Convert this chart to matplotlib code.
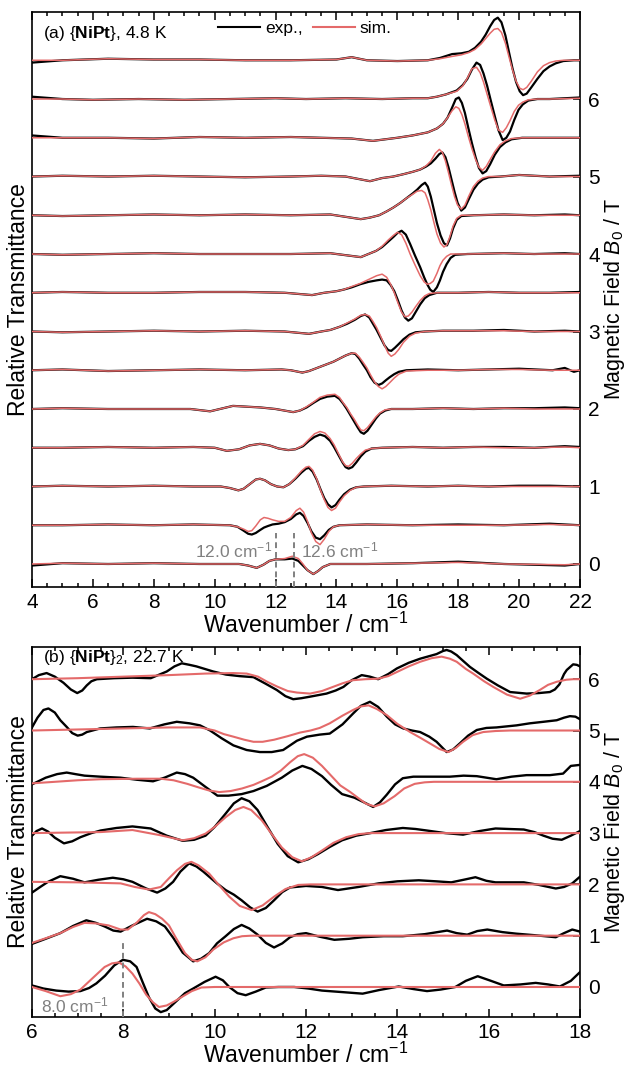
import matplotlib
matplotlib.use('Agg')
import matplotlib.pyplot as plt
from matplotlib.ticker import MultipleLocator
from matplotlib.lines import Line2D

plt.rcParams['font.family'] = ['Liberation Sans', 'DejaVu Sans']
plt.rcParams['mathtext.fontset'] = 'custom'
plt.rcParams['mathtext.rm'] = 'Liberation Sans'
plt.rcParams['mathtext.it'] = 'Liberation Sans:italic'
plt.rcParams['mathtext.bf'] = 'Liberation Sans:bold'

EXP_COLOR = '#000000'
SIM_COLOR = '#e46a6a'
MARK_COLOR = '#808080'

# ---------------- Panel (a): {NiPt}, 4.8 K (offset = field in T) ----------------
A_FIELDS = [0.0, 0.5, 1.0, 1.5, 2.0, 2.5, 3.0, 3.5, 4.0, 4.5, 5.0, 5.5, 6.0, 6.5]

A00_X = [4, 5, 6.5, 8, 9.5, 10.8, 11.1, 11.38, 11.6, 11.8, 12.0, 12.3, 12.55, 12.75, 12.9, 13.05, 13.24, 13.4, 13.55, 13.8, 15, 16.5, 18, 19.5, 21.5, 22]
A00_EXP = [-0.02, 0.01, 0.0, 0.01, 0.0, 0.0, -0.02, -0.05, -0.01, 0.04, 0.06, 0.06, 0.07, 0.04, -0.02, -0.08, -0.13, -0.09, -0.04, 0.0, 0.0, 0.01, 0.03, 0.0, -0.02, 0.0]
A00_SIM = [0.0, 0.01, 0.0, 0.01, 0.0, 0.0, -0.02, -0.05, -0.01, 0.04, 0.06, 0.07, 0.10, 0.07, 0.0, -0.08, -0.13, -0.09, -0.04, 0.0, 0.0, 0.01, 0.02, 0.0, -0.01, 0.0]

A05_X = [4, 5, 6.5, 8, 9.3, 10.5, 10.75, 10.95, 11.1, 11.22, 11.35, 11.5, 11.62, 11.75, 11.9, 12.1, 12.3, 12.5, 12.68, 12.8, 12.92, 13.05, 13.18, 13.32, 13.46, 13.6, 13.75, 13.9, 14.1, 15, 16.5, 18, 19.5, 21, 22]
A05_EXP = [0.0, 0.0, 0.01, 0.0, 0.01, 0.0, -0.02, -0.07, -0.11, -0.12, -0.10, -0.06, -0.03, -0.01, 0.01, 0.02, 0.04, 0.08, 0.14, 0.16, 0.12, 0.03, -0.08, -0.16, -0.18, -0.13, -0.06, -0.02, 0.0, 0.01, 0.0, 0.01, 0.0, 0.02, 0.0]
A05_SIM = [0.0, 0.0, 0.01, 0.0, 0.01, 0.0, -0.02, -0.05, -0.08, -0.07, -0.01, 0.07, 0.10, 0.09, 0.07, 0.05, 0.05, 0.10, 0.19, 0.22, 0.17, 0.05, -0.10, -0.21, -0.25, -0.18, -0.08, -0.02, 0.0, 0.01, 0.0, 0.0, 0.0, 0.01, 0.0]

A10_X = [4, 5, 6.5, 8, 9.3, 10.2, 10.5, 10.78, 10.95, 11.15, 11.35, 11.49, 11.65, 11.85, 12.05, 12.26, 12.45, 12.65, 12.85, 13.0, 13.1, 13.22, 13.35, 13.48, 13.6, 13.72, 13.84, 13.97, 14.1, 14.25, 14.45, 14.65, 14.9, 15.8, 17, 18, 19, 20, 21, 22]
A10_EXP = [0.0, 0.01, 0.0, 0.01, 0.0, 0.0, -0.02, -0.05, -0.03, 0.03, 0.09, 0.10, 0.08, 0.03, 0.0, -0.01, 0.03, 0.10, 0.18, 0.23, 0.24, 0.19, 0.09, -0.04, -0.15, -0.23, -0.27, -0.24, -0.17, -0.10, -0.04, -0.01, 0.0, 0.01, 0.0, 0.01, 0.0, 0.01, 0.01, 0.0]
A10_SIM = [0.0, 0.01, 0.0, 0.01, 0.0, 0.0, -0.02, -0.05, -0.03, 0.03, 0.09, 0.10, 0.08, 0.03, 0.0, -0.01, 0.03, 0.11, 0.20, 0.25, 0.26, 0.21, 0.10, -0.05, -0.17, -0.27, -0.31, -0.28, -0.20, -0.12, -0.05, -0.01, 0.0, 0.01, 0.0, 0.01, 0.0, 0.0, 0.0, 0.0]

A15_X = [4, 5, 6.5, 8, 9.3, 10.0, 10.4, 10.8, 11.15, 11.49, 11.8, 12.1, 12.42, 12.65, 12.9, 13.1, 13.28, 13.46, 13.62, 13.79, 13.92, 14.06, 14.2, 14.3, 14.4, 14.52, 14.65, 14.8, 14.95, 15.15, 15.5, 16.5, 17.5, 18.5, 19.5, 20.5, 21.5, 22]
A15_EXP = [0.0, 0.0, 0.01, 0.0, 0.01, 0.0, -0.04, -0.02, 0.03, 0.05, 0.03, -0.01, -0.03, -0.02, 0.02, 0.09, 0.14, 0.17, 0.15, 0.09, 0.01, -0.09, -0.19, -0.25, -0.27, -0.25, -0.19, -0.11, -0.05, -0.01, 0.0, 0.01, 0.0, 0.01, 0.01, 0.0, 0.02, 0.01]
A15_SIM = [0.0, 0.0, 0.01, 0.0, 0.01, 0.0, -0.04, -0.02, 0.03, 0.05, 0.03, -0.01, -0.03, -0.02, 0.03, 0.11, 0.18, 0.21, 0.19, 0.12, 0.04, -0.07, -0.18, -0.23, -0.24, -0.20, -0.14, -0.08, -0.03, -0.01, 0.0, 0.01, 0.0, 0.01, 0.0, 0.0, 0.01, 0.0]

A20_X = [4, 5, 6.5, 8, 9.2, 9.85, 10.6, 11.5, 12.0, 12.58, 12.8, 13.02, 13.25, 13.46, 13.7, 13.95, 14.1, 14.22, 14.34, 14.46, 14.58, 14.7, 14.8, 14.9, 15.02, 15.16, 15.3, 15.43, 15.6, 15.8, 16.5, 17.5, 18.5, 19.5, 20.5, 21.5, 22]
A20_EXP = [0.0, 0.01, 0.0, 0.0, 0.0, -0.03, 0.04, 0.02, 0.0, -0.04, -0.02, 0.02, 0.08, 0.13, 0.16, 0.17, 0.13, 0.07, 0.0, -0.08, -0.16, -0.24, -0.30, -0.32, -0.28, -0.20, -0.12, -0.06, -0.02, 0.0, 0.0, 0.01, 0.0, 0.01, 0.01, 0.02, 0.01]
A20_SIM = [0.0, 0.01, 0.0, 0.0, 0.0, -0.03, 0.04, 0.02, 0.0, -0.04, -0.02, 0.03, 0.09, 0.15, 0.18, 0.19, 0.15, 0.08, 0.02, -0.06, -0.13, -0.21, -0.27, -0.28, -0.24, -0.17, -0.10, -0.05, -0.01, 0.0, 0.0, 0.01, 0.0, 0.01, 0.0, 0.0, 0.0]

A25_X = [4, 5, 6.5, 8, 9.5, 11, 12.2, 12.5, 12.88, 13.1, 13.3, 13.5, 13.7, 13.9, 14.1, 14.3, 14.5, 14.62, 14.75, 14.88, 15.0, 15.12, 15.25, 15.38, 15.5, 15.62, 15.75, 15.9, 16.05, 16.3, 17, 18, 19, 20, 21.1, 21.5, 21.8, 22]
A25_EXP = [0.0, 0.01, -0.01, 0.0, 0.01, 0.0, 0.01, 0.0, -0.03, -0.01, 0.02, 0.05, 0.08, 0.11, 0.15, 0.19, 0.22, 0.21, 0.15, 0.07, 0.0, -0.09, -0.16, -0.19, -0.17, -0.13, -0.09, -0.05, -0.02, 0.0, 0.01, 0.0, 0.01, 0.02, 0.0, 0.03, -0.02, 0.0]
A25_SIM = [0.0, 0.01, -0.01, 0.0, 0.01, 0.0, 0.01, 0.0, -0.03, -0.01, 0.02, 0.05, 0.08, 0.11, 0.15, 0.19, 0.22, 0.22, 0.17, 0.10, 0.03, -0.06, -0.15, -0.21, -0.24, -0.21, -0.16, -0.10, -0.05, -0.01, 0.0, 0.0, 0.01, 0.01, 0.0, 0.0, 0.0, 0.0]

A30_X = [4, 5, 6.5, 8, 9.5, 11, 12.3, 13.1, 13.5, 13.8, 14.1, 14.35, 14.6, 14.8, 14.94, 15.08, 15.2, 15.32, 15.45, 15.58, 15.7, 15.8, 15.92, 16.05, 16.2, 16.4, 16.6, 16.9, 17.5, 18.5, 19.5, 20.5, 21.5, 22]
A30_EXP = [0.0, -0.01, 0.0, 0.01, 0.0, 0.01, 0.0, -0.03, 0.0, 0.02, 0.06, 0.10, 0.15, 0.20, 0.22, 0.18, 0.10, 0.02, -0.08, -0.18, -0.24, -0.25, -0.21, -0.16, -0.10, -0.04, -0.01, 0.0, 0.01, 0.01, 0.02, 0.0, 0.01, 0.0]
A30_SIM = [0.0, -0.01, 0.0, 0.01, 0.0, 0.01, 0.0, -0.03, 0.0, 0.02, 0.06, 0.11, 0.16, 0.21, 0.22, 0.20, 0.13, 0.05, -0.06, -0.18, -0.28, -0.32, -0.29, -0.23, -0.14, -0.06, -0.02, 0.0, 0.01, 0.01, 0.01, 0.0, 0.0, 0.0]

A35_X = [4, 5, 6.5, 8, 9.5, 11, 12.3, 13.2, 13.6, 14.0, 14.23, 14.5, 14.78, 15.05, 15.32, 15.5, 15.65, 15.78, 15.9, 16.02, 16.14, 16.25, 16.36, 16.48, 16.6, 16.75, 16.9, 17.05, 17.3, 18, 19, 20, 21, 22]
A35_EXP = [0.0, 0.01, 0.0, 0.0, 0.01, 0.01, 0.0, -0.03, 0.0, 0.02, 0.04, 0.07, 0.11, 0.14, 0.16, 0.17, 0.16, 0.10, 0.02, -0.10, -0.23, -0.32, -0.36, -0.33, -0.25, -0.15, -0.07, -0.03, 0.0, 0.0, 0.01, 0.0, 0.0, 0.01]
A35_SIM = [0.0, 0.01, 0.0, 0.0, 0.01, 0.01, 0.0, -0.03, 0.0, 0.02, 0.04, 0.08, 0.12, 0.17, 0.22, 0.24, 0.20, 0.11, 0.0, -0.13, -0.25, -0.31, -0.30, -0.25, -0.18, -0.10, -0.04, -0.01, 0.0, 0.0, 0.01, 0.0, 0.0, 0.0]

A40_X = [4, 5, 6.5, 8, 9.5, 11, 12.5, 13.8, 14.8, 15.05, 15.3, 15.5, 15.7, 15.87, 16.0, 16.14, 16.28, 16.42, 16.58, 16.75, 16.88, 16.98, 17.08, 17.18, 17.3, 17.4, 17.5, 17.62, 17.75, 17.9, 18.3, 19.5, 20.5, 21.5, 22]
A40_EXP = [0.0, -0.01, 0.0, 0.01, 0.0, 0.0, 0.0, 0.01, -0.04, 0.0, 0.04, 0.09, 0.16, 0.22, 0.27, 0.30, 0.25, 0.13, -0.02, -0.17, -0.30, -0.39, -0.46, -0.49, -0.43, -0.34, -0.23, -0.13, -0.05, -0.01, 0.0, 0.01, 0.0, 0.01, 0.0]
A40_SIM = [0.0, -0.01, 0.0, 0.01, 0.0, 0.0, 0.0, 0.01, -0.04, 0.0, 0.04, 0.10, 0.18, 0.24, 0.28, 0.25, 0.14, 0.0, -0.14, -0.28, -0.36, -0.39, -0.38, -0.35, -0.25, -0.15, -0.08, -0.03, 0.0, 0.0, 0.0, 0.01, 0.0, 0.0, 0.0]

A45_X = [4, 5, 6.5, 8, 9.5, 11, 12.5, 13.8, 14.8, 15.1, 15.4, 15.65, 15.87, 16.1, 16.3, 16.5, 16.65, 16.8, 16.91, 17.0, 17.1, 17.2, 17.3, 17.42, 17.53, 17.63, 17.73, 17.83, 17.95, 18.1, 18.5, 19.5, 20.5, 21.5, 22]
A45_EXP = [0.0, -0.01, 0.0, 0.01, 0.0, 0.01, 0.0, 0.01, -0.05, -0.03, 0.0, 0.05, 0.10, 0.16, 0.22, 0.28, 0.33, 0.39, 0.42, 0.37, 0.24, 0.07, -0.10, -0.26, -0.36, -0.39, -0.30, -0.17, -0.06, -0.01, 0.0, 0.01, 0.0, 0.01, 0.0]
A45_SIM = [0.0, -0.01, 0.0, 0.01, 0.0, 0.01, 0.0, 0.01, -0.05, -0.03, 0.0, 0.05, 0.10, 0.16, 0.22, 0.27, 0.31, 0.32, 0.29, 0.20, 0.07, -0.09, -0.24, -0.36, -0.41, -0.38, -0.27, -0.14, -0.04, 0.0, 0.0, 0.01, 0.0, 0.0, 0.0]

A50_X = [4, 5, 6.5, 8, 9.5, 11, 12.5, 13.5, 14.3, 15.1, 15.5, 15.87, 16.2, 16.5, 16.75, 16.95, 17.1, 17.25, 17.38, 17.48, 17.58, 17.68, 17.78, 17.88, 17.98, 18.1, 18.22, 18.35, 18.5, 18.65, 18.8, 19.0, 19.4, 20, 21, 22]
A50_EXP = [0.0, 0.01, 0.0, 0.01, 0.0, -0.01, 0.0, 0.01, 0.0, -0.06, -0.02, 0.0, 0.03, 0.06, 0.09, 0.13, 0.17, 0.23, 0.29, 0.31, 0.25, 0.12, -0.04, -0.20, -0.34, -0.44, -0.40, -0.29, -0.17, -0.09, -0.04, -0.01, 0.0, 0.02, 0.0, 0.01]
A50_SIM = [0.0, 0.01, 0.0, 0.01, 0.0, -0.01, 0.0, 0.01, 0.0, -0.06, -0.02, 0.0, 0.03, 0.06, 0.09, 0.14, 0.20, 0.30, 0.35, 0.31, 0.20, 0.05, -0.11, -0.26, -0.37, -0.42, -0.37, -0.25, -0.13, -0.06, -0.02, 0.0, 0.0, 0.02, 0.0, 0.0]

A55_X = [4, 5, 6.5, 8, 9.5, 11, 12.5, 13.5, 14.5, 15.2, 16.0, 16.5, 17.0, 17.3, 17.5, 17.65, 17.8, 17.92, 18.02, 18.12, 18.22, 18.33, 18.45, 18.57, 18.68, 18.8, 18.92, 19.05, 19.2, 19.37, 19.55, 19.75, 20.1, 21, 22]
A55_EXP = [0.03, 0.0, 0.0, -0.01, 0.01, 0.0, 0.01, 0.0, -0.01, -0.04, 0.0, 0.03, 0.07, 0.12, 0.18, 0.26, 0.39, 0.50, 0.52, 0.45, 0.32, 0.13, -0.07, -0.25, -0.39, -0.46, -0.43, -0.34, -0.22, -0.12, -0.06, -0.02, 0.0, 0.0, 0.0]
A55_SIM = [0.0, 0.0, 0.0, -0.01, 0.01, 0.0, 0.01, 0.0, -0.01, -0.04, 0.0, 0.03, 0.07, 0.12, 0.18, 0.26, 0.35, 0.40, 0.38, 0.30, 0.18, 0.02, -0.14, -0.28, -0.38, -0.42, -0.37, -0.28, -0.18, -0.09, -0.04, -0.01, 0.0, 0.0, 0.0]

A60_X = [4, 5, 6, 7.5, 9, 10.5, 12, 13, 14.3, 15.5, 16.5, 17.0, 17.3, 17.6, 17.95, 18.15, 18.3, 18.45, 18.6, 18.72, 18.83, 18.95, 19.07, 19.2, 19.32, 19.46, 19.58, 19.7, 19.84, 19.98, 20.12, 20.3, 20.6, 21, 22]
A60_EXP = [0.03, 0.0, -0.01, 0.0, -0.01, 0.0, 0.01, 0.0, 0.01, 0.0, 0.01, 0.01, 0.03, 0.06, 0.11, 0.18, 0.26, 0.38, 0.47, 0.44, 0.33, 0.17, -0.02, -0.22, -0.40, -0.53, -0.50, -0.42, -0.27, -0.14, -0.07, -0.02, 0.0, 0.0, 0.02]
A60_SIM = [0.0, 0.0, -0.01, 0.0, -0.01, 0.0, 0.01, 0.0, 0.01, 0.0, 0.01, 0.01, 0.03, 0.06, 0.10, 0.17, 0.27, 0.39, 0.41, 0.34, 0.22, 0.06, -0.10, -0.27, -0.40, -0.43, -0.37, -0.28, -0.16, -0.08, -0.04, -0.01, 0.0, 0.0, 0.01]

A65_X = [4, 5, 6.5, 8, 9.5, 11, 12.5, 14, 14.5, 15, 16, 17.0, 17.4, 17.8, 18.1, 18.35, 18.55, 18.75, 18.9, 19.05, 19.18, 19.3, 19.42, 19.55, 19.67, 19.78, 19.9, 20.02, 20.13, 20.25, 20.4, 20.6, 20.8, 21.0, 21.2, 21.45, 21.8, 22]
A65_EXP = [-0.03, 0.0, 0.02, 0.01, 0.01, 0.0, 0.0, 0.01, 0.04, 0.0, -0.01, 0.0, 0.03, 0.08, 0.09, 0.11, 0.16, 0.24, 0.33, 0.44, 0.52, 0.55, 0.49, 0.32, 0.10, -0.10, -0.28, -0.40, -0.45, -0.43, -0.35, -0.24, -0.14, -0.08, -0.04, -0.01, 0.0, 0.0]
A65_SIM = [0.0, 0.0, 0.02, 0.01, 0.01, 0.0, 0.0, 0.01, 0.04, 0.0, -0.01, 0.0, 0.02, 0.05, 0.07, 0.10, 0.14, 0.21, 0.28, 0.35, 0.40, 0.41, 0.36, 0.22, 0.04, -0.12, -0.27, -0.36, -0.38, -0.35, -0.27, -0.15, -0.07, -0.03, -0.01, 0.0, 0.0, 0.0]

A_X = [A00_X, A05_X, A10_X, A15_X, A20_X, A25_X, A30_X, A35_X, A40_X, A45_X, A50_X, A55_X, A60_X, A65_X]
A_EXP = [A00_EXP, A05_EXP, A10_EXP, A15_EXP, A20_EXP, A25_EXP, A30_EXP, A35_EXP, A40_EXP, A45_EXP, A50_EXP, A55_EXP, A60_EXP, A65_EXP]
A_SIM = [A00_SIM, A05_SIM, A10_SIM, A15_SIM, A20_SIM, A25_SIM, A30_SIM, A35_SIM, A40_SIM, A45_SIM, A50_SIM, A55_SIM, A60_SIM, A65_SIM]

A_MARK_X = [12.0, 12.6]
A_MARK_TOP = 0.40
A_MARK_LABELS = ['12.0 cm$^{-1}$', '12.6 cm$^{-1}$']

# ---------------- Panel (b): {NiPt}2, 22.7 K ----------------
B_FIELDS = [0, 1, 2, 3, 4, 5, 6]

B0_EXP_X = [6.0, 6.25, 6.53, 6.8, 7.06, 7.25, 7.41, 7.6, 7.8, 7.99, 8.15, 8.29, 8.42, 8.56, 8.7, 8.82, 8.95, 9.18, 9.35, 9.53, 9.78, 10.02, 10.18, 10.32, 10.5, 10.68, 10.9, 11.12, 11.4, 11.74, 12.05, 12.35, 12.8, 13.24, 13.6, 14.03, 14.35, 14.65, 14.95, 15.27, 15.5, 15.76, 16.05, 16.33, 16.7, 17.03, 17.3, 17.56, 17.8, 18.0]
B0_EXP = [0.03, -0.03, -0.07, -0.09, -0.08, -0.02, 0.07, 0.22, 0.42, 0.53, 0.50, 0.39, 0.10, -0.20, -0.42, -0.49, -0.45, -0.26, -0.12, -0.03, 0.10, 0.20, 0.13, 0.0, -0.12, -0.16, -0.09, -0.01, 0.0, 0.0, -0.03, -0.07, -0.10, -0.13, -0.06, 0.01, -0.04, -0.08, -0.05, 0.0, 0.12, 0.21, 0.12, 0.03, 0.05, 0.08, 0.05, 0.01, 0.12, 0.29]
B0_SIM_X = [6.0, 6.3, 6.62, 6.85, 7.06, 7.3, 7.59, 7.75, 7.9, 8.05, 8.2, 8.35, 8.5, 8.65, 8.78, 8.95, 9.1, 9.27, 9.5, 9.71, 10.0, 18.0]
B0_SIM = [0.0, -0.08, -0.18, -0.14, -0.05, 0.15, 0.39, 0.46, 0.48, 0.40, 0.26, 0.07, -0.15, -0.30, -0.39, -0.36, -0.29, -0.20, -0.08, -0.01, 0.0, 0.0]

B1_EXP_X = [6.0, 6.3, 6.62, 6.9, 7.19, 7.4, 7.59, 7.78, 7.94, 8.2, 8.52, 8.72, 8.91, 9.1, 9.3, 9.53, 9.7, 9.88, 10.05, 10.24, 10.42, 10.59, 10.76, 10.94, 11.12, 11.3, 11.48, 11.65, 11.82, 12.0, 12.3, 12.62, 12.95, 13.24, 13.7, 14.12, 14.6, 15.09, 15.3, 15.53, 15.75, 15.97, 16.3, 16.6, 17.0, 17.47, 17.65, 17.83, 18.0]
B1_EXP = [-0.16, -0.06, 0.05, 0.19, 0.30, 0.25, 0.18, 0.10, 0.08, 0.20, 0.33, 0.28, 0.18, -0.05, -0.33, -0.50, -0.45, -0.34, -0.15, -0.01, 0.13, 0.21, 0.14, 0.02, -0.14, -0.23, -0.15, -0.03, 0.03, 0.05, -0.02, -0.08, -0.06, -0.03, -0.01, -0.01, 0.03, 0.10, 0.05, 0.02, 0.09, 0.12, 0.07, 0.04, 0.01, -0.03, 0.05, 0.12, 0.08]
B1_SIM_X = [6.0, 6.3, 6.62, 6.9, 7.15, 7.4, 7.68, 7.94, 8.1, 8.3, 8.45, 8.56, 8.7, 8.85, 9.0, 9.15, 9.35, 9.5, 9.62, 9.8, 9.97, 10.2, 10.41, 10.6, 10.8, 18.0]
B1_SIM = [-0.14, -0.05, 0.05, 0.17, 0.25, 0.24, 0.20, 0.12, 0.12, 0.26, 0.40, 0.46, 0.42, 0.33, 0.20, -0.04, -0.34, -0.47, -0.50, -0.42, -0.27, -0.13, -0.05, -0.01, 0.0, 0.0]

B2_EXP_X = [6.0, 6.18, 6.35, 6.62, 6.9, 7.15, 7.45, 7.77, 8.0, 8.2, 8.5, 8.74, 8.92, 9.09, 9.25, 9.44, 9.6, 9.75, 9.88, 10.05, 10.24, 10.42, 10.59, 10.78, 10.94, 11.12, 11.3, 11.48, 11.65, 12.0, 12.35, 12.7, 13.15, 13.59, 14.0, 14.47, 14.85, 15.18, 15.45, 15.71, 15.95, 16.15, 16.77, 17.1, 17.47, 17.65, 17.83, 18.0]
B2_EXP = [-0.16, -0.05, 0.05, 0.16, 0.11, 0.04, 0.09, 0.13, 0.10, 0.05, -0.08, -0.16, -0.08, 0.05, 0.25, 0.41, 0.35, 0.25, 0.15, 0.02, -0.11, -0.20, -0.31, -0.45, -0.53, -0.46, -0.31, -0.15, -0.06, -0.03, -0.05, -0.11, -0.05, 0.02, 0.06, 0.08, 0.06, 0.04, 0.09, 0.14, 0.07, 0.04, 0.04, -0.01, -0.08, -0.05, 0.02, 0.15]
B2_SIM_X = [6.0, 7.0, 7.94, 8.25, 8.56, 8.82, 9.0, 9.18, 9.35, 9.49, 9.65, 9.88, 10.1, 10.32, 10.55, 10.81, 11.05, 11.3, 11.55, 11.83, 12.1, 18.0]
B2_SIM = [0.05, 0.04, 0.02, -0.05, -0.10, -0.05, 0.12, 0.28, 0.40, 0.44, 0.37, 0.21, -0.02, -0.24, -0.42, -0.50, -0.41, -0.24, -0.09, -0.01, 0.0, 0.0]

B3_EXP_X = [6.0, 6.1, 6.22, 6.35, 6.5, 6.7, 6.88, 7.06, 7.3, 7.5, 7.85, 8.2, 8.6, 8.95, 9.3, 9.55, 9.8, 10.0, 10.24, 10.42, 10.59, 10.76, 10.94, 11.15, 11.38, 11.6, 11.83, 12.05, 12.26, 12.52, 12.79, 13.1, 13.41, 13.75, 14.12, 14.4, 14.65, 15.05, 15.44, 15.8, 16.15, 16.45, 16.77, 17.0, 17.2, 17.4, 17.6, 17.8, 18.0]
B3_EXP = [-0.05, 0.04, 0.09, 0.03, -0.09, -0.20, -0.16, -0.08, 0.0, 0.05, 0.10, 0.13, 0.09, -0.05, -0.15, -0.13, -0.05, 0.12, 0.38, 0.58, 0.68, 0.62, 0.45, 0.13, -0.21, -0.45, -0.57, -0.51, -0.41, -0.27, -0.14, -0.05, 0.0, 0.06, 0.10, 0.08, 0.05, 0.0, -0.03, 0.04, 0.09, 0.08, 0.07, 0.02, -0.05, -0.11, -0.13, -0.05, 0.04]
B3_SIM_X = [6.0, 7.5, 8.2, 8.8, 9.3, 9.55, 9.8, 10.0, 10.24, 10.45, 10.63, 10.8, 11.03, 11.25, 11.47, 11.7, 11.91, 12.12, 12.35, 12.6, 12.88, 13.15, 13.41, 18.0]
B3_SIM = [0.0, 0.02, 0.06, -0.04, -0.14, -0.10, -0.01, 0.12, 0.31, 0.45, 0.51, 0.45, 0.25, -0.02, -0.28, -0.47, -0.55, -0.47, -0.34, -0.19, -0.08, -0.02, 0.0, 0.0]

B4_EXP_X = [6.0, 6.3, 6.55, 6.76, 6.95, 7.15, 7.5, 7.94, 8.3, 8.65, 8.9, 9.17, 9.35, 9.53, 9.8, 10.06, 10.3, 10.59, 10.85, 11.14, 11.47, 11.7, 11.92, 12.12, 12.35, 12.55, 12.79, 13.06, 13.27, 13.47, 13.62, 13.77, 13.95, 14.12, 14.35, 14.64, 15.15, 15.45, 15.74, 16.17, 16.5, 16.83, 17.34, 17.63, 17.8, 18.0]
B4_EXP = [-0.05, 0.08, 0.15, 0.18, 0.15, 0.12, 0.10, 0.08, 0.04, 0.01, 0.08, 0.18, 0.15, 0.08, -0.10, -0.27, -0.27, -0.24, -0.18, -0.08, 0.08, 0.22, 0.31, 0.25, 0.11, -0.06, -0.24, -0.31, -0.40, -0.49, -0.40, -0.25, -0.05, 0.07, 0.10, 0.10, 0.10, 0.12, 0.11, 0.05, 0.10, 0.13, 0.13, 0.16, 0.31, 0.33]
B4_SIM_X = [6.0, 7.0, 7.5, 8.3, 8.82, 9.1, 9.4, 9.65, 9.88, 10.1, 10.35, 10.6, 10.85, 11.03, 11.25, 11.45, 11.65, 11.82, 11.96, 12.15, 12.35, 12.55, 12.75, 12.97, 13.15, 13.32, 13.5, 13.7, 13.94, 14.15, 14.38, 14.6, 14.8, 18.0]
B4_SIM = [-0.03, 0.03, 0.05, 0.06, 0.06, 0.03, -0.04, -0.11, -0.17, -0.20, -0.18, -0.13, -0.06, 0.01, 0.10, 0.22, 0.38, 0.50, 0.54, 0.47, 0.31, 0.12, -0.07, -0.20, -0.32, -0.43, -0.48, -0.42, -0.28, -0.13, -0.04, -0.01, 0.0, 0.0]

B5_EXP_X = [6.0, 6.12, 6.25, 6.36, 6.5, 6.62, 6.76, 6.88, 7.0, 7.1, 7.2, 7.49, 7.85, 8.21, 8.58, 8.9, 9.17, 9.45, 9.68, 9.9, 10.15, 10.41, 10.7, 10.99, 11.25, 11.5, 11.8, 12.02, 12.3, 12.52, 12.8, 13.03, 13.2, 13.4, 13.58, 13.77, 13.95, 14.13, 14.32, 14.5, 14.7, 14.86, 15.08, 15.22, 15.37, 15.55, 15.74, 15.95, 16.17, 16.61, 16.9, 17.2, 17.49, 17.65, 17.78, 17.9, 18.0]
B5_EXP = [0.06, 0.25, 0.40, 0.43, 0.35, 0.20, 0.07, -0.05, -0.10, -0.08, -0.03, 0.04, 0.06, 0.07, 0.04, 0.12, 0.17, 0.14, 0.10, 0.0, -0.15, -0.29, -0.38, -0.42, -0.42, -0.38, -0.20, -0.12, -0.08, -0.06, 0.12, 0.33, 0.48, 0.56, 0.46, 0.27, 0.12, 0.04, 0.0, -0.03, -0.12, -0.22, -0.42, -0.37, -0.25, -0.10, 0.01, 0.05, 0.06, 0.10, 0.14, 0.17, 0.20, 0.25, 0.28, 0.27, 0.22]
B5_SIM_X = [6.0, 8.0, 9.0, 9.68, 10.0, 10.2, 10.41, 10.65, 10.85, 11.05, 11.3, 11.6, 11.87, 12.1, 12.3, 12.52, 12.8, 13.03, 13.2, 13.37, 13.55, 13.77, 14.0, 14.28, 14.5, 14.71, 14.92, 15.12, 15.28, 15.44, 15.65, 15.88, 16.15, 16.47, 18.0]
B5_SIM = [0.0, 0.04, 0.06, 0.06, 0.0, -0.07, -0.12, -0.18, -0.22, -0.22, -0.18, -0.11, -0.04, 0.0, 0.05, 0.14, 0.29, 0.40, 0.47, 0.49, 0.42, 0.30, 0.13, -0.03, -0.14, -0.25, -0.36, -0.42, -0.34, -0.22, -0.09, -0.03, -0.01, 0.0, 0.0]

B6_EXP_X = [6.0, 6.15, 6.32, 6.5, 6.69, 6.85, 6.99, 7.1, 7.2, 7.3, 7.42, 7.8, 8.2, 8.6, 8.95, 9.12, 9.28, 9.45, 9.6, 9.97, 10.25, 10.55, 10.85, 11.1, 11.36, 11.55, 11.72, 11.9, 12.09, 12.45, 12.65, 12.82, 13.0, 13.22, 13.4, 13.58, 13.8, 13.99, 14.25, 14.5, 14.7, 14.86, 15.0, 15.08, 15.18, 15.3, 15.45, 15.59, 15.78, 15.96, 16.2, 16.47, 16.83, 17.1, 17.34, 17.45, 17.55, 17.65, 17.71, 17.85, 17.93, 18.0]
B6_EXP = [0.0, 0.08, 0.12, 0.05, -0.07, -0.20, -0.27, -0.22, -0.12, -0.04, 0.0, 0.02, 0.03, 0.02, 0.15, 0.25, 0.31, 0.28, 0.25, 0.15, 0.09, 0.06, 0.04, -0.08, -0.21, -0.33, -0.39, -0.37, -0.34, -0.28, -0.22, -0.15, -0.02, 0.08, 0.05, 0.0, 0.10, 0.21, 0.32, 0.40, 0.45, 0.49, 0.55, 0.57, 0.54, 0.47, 0.35, 0.24, 0.12, 0.01, -0.12, -0.25, -0.28, -0.27, -0.25, -0.20, -0.10, 0.10, 0.18, 0.29, 0.28, 0.25]
B6_SIM_X = [6.0, 7.0, 8.0, 9.0, 9.8, 10.41, 10.7, 10.95, 11.15, 11.36, 11.6, 11.8, 12.09, 12.35, 12.59, 12.8, 13.02, 13.3, 13.58, 13.8, 13.99, 14.25, 14.5, 14.75, 14.97, 15.15, 15.3, 15.5, 15.66, 15.9, 16.1, 16.4, 16.69, 16.9, 17.12, 17.3, 17.49, 17.7, 17.85, 18.0]
B6_SIM = [0.0, 0.02, 0.05, 0.08, 0.11, 0.12, 0.11, 0.05, -0.05, -0.14, -0.23, -0.26, -0.28, -0.23, -0.15, -0.08, -0.02, 0.0, 0.01, 0.06, 0.14, 0.25, 0.34, 0.41, 0.44, 0.40, 0.34, 0.20, 0.11, -0.04, -0.15, -0.30, -0.38, -0.32, -0.21, -0.11, -0.05, -0.01, 0.0, 0.0]

B_EXP_X = [B0_EXP_X, B1_EXP_X, B2_EXP_X, B3_EXP_X, B4_EXP_X, B5_EXP_X, B6_EXP_X]
B_EXP = [B0_EXP, B1_EXP, B2_EXP, B3_EXP, B4_EXP, B5_EXP, B6_EXP]
B_SIM_X = [B0_SIM_X, B1_SIM_X, B2_SIM_X, B3_SIM_X, B4_SIM_X, B5_SIM_X, B6_SIM_X]
B_SIM = [B0_SIM, B1_SIM, B2_SIM, B3_SIM, B4_SIM, B5_SIM, B6_SIM]

B_MARK_X = [8.0]
B_MARK_TOP = 0.90
B_MARK_LABEL = '8.0 cm$^{-1}$'

FIELD_TICKS = [0, 1, 2, 3, 4, 5, 6]

# ---------------- Figure ----------------
W, H = 631, 1070
fig = plt.figure(figsize=(W / 100, H / 100), dpi=100)
L, R = 32, 580
axa = fig.add_axes([L / W, 1 - 587 / H, (R - L) / W, (587 - 12) / H])
axb = fig.add_axes([L / W, 1 - 1017 / H, (R - L) / W, (1017 - 647) / H])

TICK_FS = 15
LABEL_FS = 16.5
RLABEL_FS = 15.5
NOTE_FS = 12.5


def style_axes(ax, xlim, ylim):
    ax.set_xlim(*xlim)
    ax.set_ylim(*ylim)
    ax.xaxis.set_major_locator(MultipleLocator(2))
    ax.xaxis.set_minor_locator(MultipleLocator(0.5))
    ax.set_yticks(FIELD_TICKS)
    ax.yaxis.tick_right()
    ax.yaxis.set_label_position('right')
    ax.tick_params(axis='x', which='both', direction='in', top=True, bottom=True,
                   labelsize=TICK_FS, width=1.1, pad=4)
    ax.tick_params(axis='x', which='major', length=6)
    ax.tick_params(axis='x', which='minor', length=3)
    ax.tick_params(axis='y', which='both', direction='in', left=False, right=True,
                   labelsize=TICK_FS, length=5, width=1.1, pad=6)
    for sp in ax.spines.values():
        sp.set_linewidth(1.2)
    ax.set_xlabel('Wavenumber / cm$^{-1}$', fontsize=LABEL_FS, labelpad=1)
    ax.set_ylabel('Magnetic Field $\\mathit{B}_0$ / T', fontsize=RLABEL_FS, labelpad=1.5)
    ax.text(-0.024, 0.5, 'Relative Transmittance', rotation=90, transform=ax.transAxes,
            ha='center', va='center', fontsize=LABEL_FS)


# Panel (a)
for f, xs, es, ss in zip(A_FIELDS, A_X, A_EXP, A_SIM):
    axa.plot(xs, [f + v for v in es], color=EXP_COLOR, lw=1.6, zorder=2,
             solid_joinstyle='round')
    axa.plot(xs, [f + v for v in ss], color=SIM_COLOR, lw=1.1, zorder=3,
             solid_joinstyle='round')

style_axes(axa, (4, 22), (-0.297, 7.123))
ya0 = axa.get_ylim()[0]
axa.vlines(A_MARK_X, ya0, A_MARK_TOP, colors=MARK_COLOR, linestyles=(0, (3, 2)), lw=1.4, zorder=4)
axa.text(11.9, 0.18, A_MARK_LABELS[0], color=MARK_COLOR, fontsize=NOTE_FS,
         ha='right', va='center')
axa.text(12.85, 0.18, A_MARK_LABELS[1], color=MARK_COLOR, fontsize=NOTE_FS,
         ha='left', va='center')
axa.text(0.02, 0.963, '(a) {$\\mathbf{NiPt}$}, 4.8 K', transform=axa.transAxes,
         fontsize=NOTE_FS, ha='left', va='center')
h_exp = Line2D([], [], color=EXP_COLOR, lw=1.5)
h_sim = Line2D([], [], color=SIM_COLOR, lw=1.5)
axa.legend([h_exp, h_sim], ['exp.,', 'sim.'], ncol=2, loc='upper left',
           bbox_to_anchor=(0.339, 0.985), frameon=False, fontsize=NOTE_FS,
           handlelength=2.42, handletextpad=0.3, columnspacing=0.58,
           borderaxespad=0, borderpad=0)

# Panel (b)
for f, xe, ye, xs, ys in zip(B_FIELDS, B_EXP_X, B_EXP, B_SIM_X, B_SIM):
    axb.plot(xe, [f + v for v in ye], color=EXP_COLOR, lw=1.7, zorder=2,
             solid_joinstyle='round')
    axb.plot(xs, [f + v for v in ys], color=SIM_COLOR, lw=1.5, zorder=3,
             solid_joinstyle='round')

style_axes(axb, (6, 18), (-0.585, 6.628))
yb0 = axb.get_ylim()[0]
axb.vlines(B_MARK_X, yb0, B_MARK_TOP, colors=MARK_COLOR, linestyles=(0, (3, 2)), lw=1.4, zorder=4)
axb.text(7.68, -0.36, B_MARK_LABEL, color=MARK_COLOR, fontsize=NOTE_FS,
         ha='right', va='center')
axb.text(0.02, 0.972, '(b) {$\\mathbf{NiPt}$}$_2$, 22.7 K', transform=axb.transAxes,
         fontsize=NOTE_FS, ha='left', va='center')

fig.savefig('out.png', dpi=100)
